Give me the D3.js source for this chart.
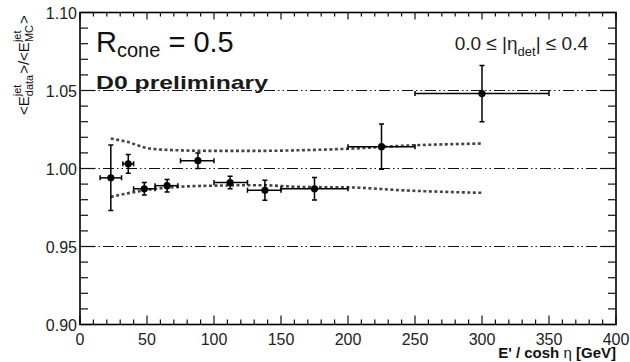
<!DOCTYPE html>
<html>
<head>
<meta charset="utf-8">
<script src="https://cdn.jsdelivr.net/npm/d3@7"></script>
<style>
  body { margin: 0; background: #fff; }
  svg { display: block; font-family: "Liberation Sans", Arial, sans-serif; }
</style>
</head>
<body>
<div id="main-container"></div>
<script>
// DATA
const ptX    = [23, 36, 48, 65, 88, 112, 138, 175, 225, 300];
const ptXlo  = [15, 32, 40, 56, 75, 100, 125, 150, 200, 250];
const ptXhi  = [31, 40, 56, 73, 100, 125, 150, 200, 250, 350];
const ptY    = [0.994, 1.003, 0.987, 0.989, 1.005, 0.991, 0.986, 0.987, 1.014, 1.048];
const ptYerr = [0.021, 0.006, 0.004, 0.004, 0.005, 0.004, 0.0064, 0.0072, 0.0145, 0.018];

const bandX  = [23, 35, 52, 72, 100, 134, 164, 204, 239, 300];
const bandUp = [1.0192, 1.0171, 1.0128, 1.0117, 1.0113, 1.0113, 1.0117, 1.0128, 1.0145, 1.016];
const bandLo = [0.9818, 0.984, 0.9865, 0.9882, 0.989, 0.9893, 0.9882, 0.9878, 0.9861, 0.9844];

const xTicks = [0, 50, 100, 150, 200, 250, 300, 350, 400];
const yTicks = [0.90, 0.95, 1.00, 1.05, 1.10];
const gridY  = [0.95, 1.00, 1.05];

// DRAWING SETUP
const W = 630, H = 362;
const x = d3.scaleLinear().domain([0, 400]).range([80, 616]);
const y = d3.scaleLinear().domain([0.9, 1.1]).range([324.5, 12.5]);

const svg = d3.select("#main-container").append("svg")
    .attr("width", W)
    .attr("height", H);

// grid lines (dash-dot-dot)
svg.selectAll(".grid")
    .data(gridY)
    .enter().append("line")
    .attr("class", "grid")
    .attr("x1", x(0)).attr("x2", x(400))
    .attr("y1", d => y(d)).attr("y2", d => y(d))
    .style("stroke", "#111")
    .style("stroke-width", 1.2)
    .style("stroke-dasharray", "11,3,1.5,3,1.5,3");

// ticks on all four sides
const xMinor = d3.range(0, 401, 10);
const yMinor = d3.range(0, 21).map(i => 0.9 + i * 0.01);

function tickLen(major, minorLen, majorLen) { return major ? majorLen : minorLen; }

const ticks = svg.append("g").style("stroke", "#111").style("stroke-width", 1.2);
xMinor.forEach(v => {
    const major = v % 50 === 0;
    ticks.append("line")
        .attr("x1", x(v)).attr("x2", x(v))
        .attr("y1", y(0.9)).attr("y2", y(0.9) - tickLen(major, 5, 9));
    ticks.append("line")
        .attr("x1", x(v)).attr("x2", x(v))
        .attr("y1", y(1.1)).attr("y2", y(1.1) + tickLen(major, 4, 7));
});
yMinor.forEach((v, i) => {
    const major = i % 5 === 0;
    ticks.append("line")
        .attr("x1", x(0)).attr("x2", x(0) + tickLen(major, 8, 15))
        .attr("y1", y(v)).attr("y2", y(v));
    ticks.append("line")
        .attr("x1", x(400)).attr("x2", x(400) - tickLen(major, 8, 15))
        .attr("y1", y(v)).attr("y2", y(v));
});

// frame
svg.append("rect")
    .attr("x", x(0)).attr("y", y(1.1))
    .attr("width", x(400) - x(0))
    .attr("height", y(0.9) - y(1.1))
    .style("fill", "none")
    .style("stroke", "#000")
    .style("stroke-width", 1.6);

// tick labels
svg.selectAll(".xlab")
    .data(xTicks)
    .enter().append("text")
    .attr("x", d => x(d))
    .attr("y", 345)
    .attr("text-anchor", "middle")
    .style("font-size", "16px")
    .style("fill", "#222")
    .text(d => d);

svg.selectAll(".ylab")
    .data(yTicks)
    .enter().append("text")
    .attr("x", 77)
    .attr("y", d => y(d) + 6)
    .attr("text-anchor", "end")
    .style("font-size", "16px")
    .style("fill", "#222")
    .text(d => d3.format(".2f")(d));

// systematic band (dotted curves)
const line = d3.line()
    .x(d => x(d[0]))
    .y(d => y(d[1]))
    .curve(d3.curveMonotoneX);

[bandUp, bandLo].forEach(arr => {
    svg.append("path")
        .attr("d", line(bandX.map((v, i) => [v, arr[i]])))
        .style("fill", "none")
        .style("stroke", "#444")
        .style("stroke-width", 2.6)
        .style("stroke-dasharray", "3,2.5");
});

// points with error bars
const pts = ptX.map((v, i) => ({x: v, lo: ptXlo[i], hi: ptXhi[i], y: ptY[i], e: ptYerr[i]}));
const node = svg.selectAll(".pt")
    .data(pts)
    .enter().append("g")
    .attr("class", "pt")
    .style("stroke", "#000")
    .style("stroke-width", 1.5);

node.append("line")
    .attr("x1", d => x(d.lo)).attr("x2", d => x(d.hi))
    .attr("y1", d => y(d.y)).attr("y2", d => y(d.y));
node.append("line")
    .attr("x1", d => x(d.x)).attr("x2", d => x(d.x))
    .attr("y1", d => y(d.y - d.e)).attr("y2", d => y(d.y + d.e));
// end caps
node.append("path")
    .attr("d", d => {
        const cx = x(d.x), cy = y(d.y), c = 2.5;
        return `M${x(d.lo)},${cy - c}V${cy + c}` +
               `M${x(d.hi)},${cy - c}V${cy + c}` +
               `M${cx - c},${y(d.y - d.e)}H${cx + c}` +
               `M${cx - c},${y(d.y + d.e)}H${cx + c}`;
    })
    .style("fill", "none");
node.append("circle")
    .attr("cx", d => x(d.x))
    .attr("cy", d => y(d.y))
    .attr("r", 3.6)
    .style("fill", "#000")
    .style("stroke", "none");

// labels inside the frame
const rTxt = svg.append("text")
    .attr("x", 96).attr("y", 52)
    .style("font-size", "29px")
    .style("fill", "#111");
rTxt.append("tspan").text("R");
rTxt.append("tspan").attr("dy", 5).style("font-size", "20px").text("cone");
rTxt.append("tspan").attr("dy", -5).text(" = 0.5");

svg.append("text")
    .attr("x", 96).attr("y", 89)
    .attr("textLength", 172)
    .attr("lengthAdjust", "spacingAndGlyphs")
    .style("font-size", "19px")
    .style("font-weight", "bold")
    .style("fill", "#1a1a1a")
    .text("D0 preliminary");

const eTxt = svg.append("text")
    .attr("x", 588).attr("y", 50)
    .attr("text-anchor", "end")
    .style("font-size", "19px")
    .style("fill", "#222");
eTxt.append("tspan").text("0.0 \u2264 |\u03b7");
eTxt.append("tspan").attr("dy", 6).style("font-size", "13px").text("det");
eTxt.append("tspan").attr("dy", -6).text("| \u2264 0.4");

// x axis title
const xt = svg.append("text")
    .attr("x", 616).attr("y", 358)
    .attr("text-anchor", "end")
    .style("font-size", "15px")
    .style("font-weight", "bold")
    .style("fill", "#111");
xt.append("tspan").text("E' / cosh ");
xt.append("tspan").style("font-weight", "normal").text("\u03b7");
xt.append("tspan").text(" [GeV]");

// y axis title, rotated, built from pieces
const yt = svg.append("g").attr("transform", "translate(29,115) rotate(-90)");
const segs = [
    {t: "<E"}, {sup: "jet", sub: "data"}, {t: ">/<E"}, {sup: "jet", sub: "MC"}, {t: ">"}
];
let pos = 0;
for (let s of segs) {
    if (s.t) {
        const el = yt.append("text").attr("x", pos).attr("y", 0)
            .style("font-size", "15px").style("fill", "#111").text(s.t);
        pos += el.node().getComputedTextLength();
    } else {
        const a = yt.append("text").attr("x", pos).attr("y", -8)
            .style("font-size", "11px").style("fill", "#111").text(s.sup);
        const b = yt.append("text").attr("x", pos).attr("y", 4)
            .style("font-size", "11px").style("fill", "#111").text(s.sub);
        pos += Math.max(a.node().getComputedTextLength(), b.node().getComputedTextLength()) + 1;
    }
}
</script>
</body>
</html>
